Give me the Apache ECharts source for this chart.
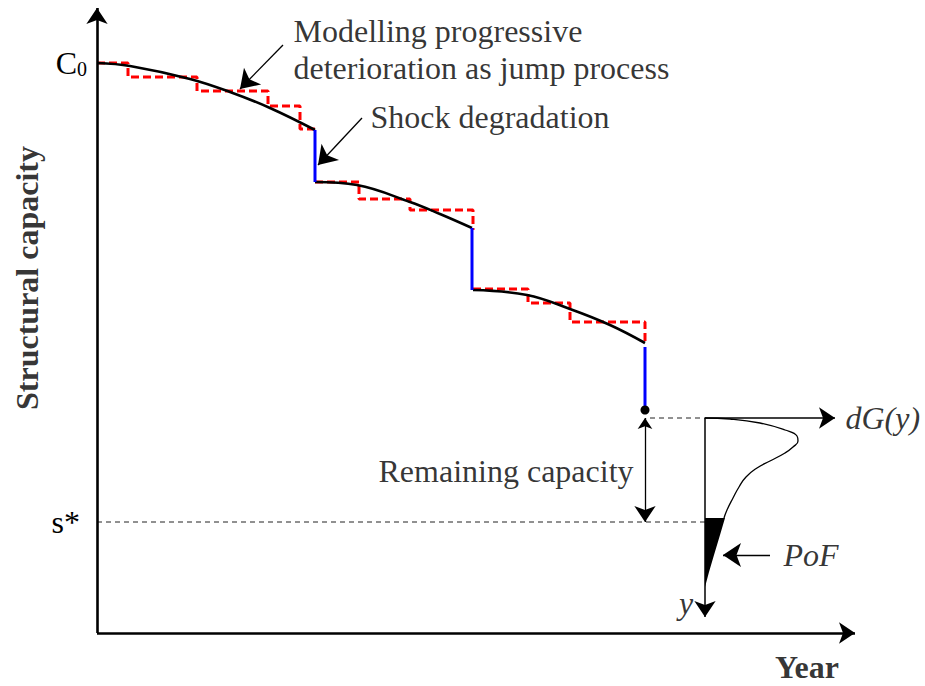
<!DOCTYPE html>
<html>
<head>
<meta charset="utf-8">
<script src="https://cdn.jsdelivr.net/npm/echarts@6/dist/echarts.min.js"></script>
<style>
  html, body { margin: 0; padding: 0; background: #fff; }
  #chart { width: 925px; height: 686px; }
</style>
</head>
<body>
<div id="chart"></div>
<script>
// Capacity levels on the vertical axis
const c0Level = 570;      // initial capacity C0
const sStarLevel = 111;   // limit state s*

// Progressive deterioration (smooth ageing) between shocks
const agingPath1 = [[0, 570], [33, 567], [93, 554], [133, 541], [173, 525], [218, 503]];
const agingPath2 = [[218, 451], [260, 448], [313, 431], [343, 419], [375, 405]];
const agingPath3 = [[376, 343], [430, 338], [473, 324], [513, 308], [548, 290]];

// The same deterioration modelled as a jump process
const jumpSteps1 = [[0, 570], [31, 570], [31, 556], [100, 556], [100, 542], [171, 542], [171, 527], [203, 527], [203, 504], [219, 504]];
const jumpSteps2 = [[218, 451], [262, 451], [262, 434], [313, 434], [313, 423], [376, 423], [376, 403]];
const jumpSteps3 = [[376, 344], [431, 344], [431, 330], [473, 330], [473, 311], [548, 311], [548, 290]];

// Sudden shock degradations
const shockDrops = [
  [[218, 503], [218, 451]],
  [[375, 405], [375, 343]],
  [[548, 286], [548, 223]]
];
const currentState = [548, 223];

// Distribution of remaining capacity dG(y)
const densityCurve = [[608, 215], [633, 214], [663, 210], [688, 203], [700, 197], [701, 192], [696, 186], [688, 180], [673, 172], [660, 165], [649, 156], [642, 146], [636, 135], [630, 123], [627, 115]];
const pofArea = [[608, 115], [628, 115], [623, 98], [617, 78], [612, 61], [608, 46]];

// Helper lines and arrows
const thresholdLine = [[0, sStarLevel], [608, sStarLevel]];
const stateLine = [[553, 215], [608, 215]];
const remainingSpan = [[548, 215], [548, 111]];
const axisYear = [[0, 0], [758, 0]];
const axisCapacity = [[0, 0], [0, 625]];
const axisDensityX = [[608, 215], [738, 215]];
const axisDensityY = [[608, 215], [608, 16]];
const pofPointer = [[673, 78], [626, 78]];
const jumpPointer = [[186, 588], [143, 544]];
const shockPointer = [[265, 515], [221, 468]];

const serif = "'Liberation Serif', 'Times New Roman', serif";

// Text notes anchored in data space
const notes = [
  { value: [196, 583.5], text: 'Modelling progressive\ndeterioration as jump process', pos: 'right' },
  { value: [273, 516], text: 'Shock degradation', pos: 'right' },
  { value: [281, 162], text: 'Remaining capacity', pos: 'right' },
  { value: [748, 215], text: 'dG(y)', pos: 'right', italic: true },
  { value: [686, 78], text: 'PoF', pos: 'right', italic: true },
  { value: [589, 30], text: 'y', pos: 'inside', italic: true },
  { value: [710, -34], text: 'Year', pos: 'inside', bold: true },
  { value: [-70, 355], text: 'Structural capacity', pos: 'inside', bold: true, rotate: 90 }
];

function lineSeries(data, color, width, type, smooth) {
  return {
    type: 'line', data: data, smooth: smooth || false, symbol: 'none', silent: true,
    clip: false,
    lineStyle: { color: color, width: width, type: type || 'solid', cap: 'butt' },
    z: 3
  };
}

function arrowSeries(segments, width, size, both) {
  return {
    type: 'lines', coordinateSystem: 'cartesian2d', silent: true, clip: false,
    symbol: both ? ['arrow', 'arrow'] : ['none', 'arrow'],
    symbolSize: size,
    lineStyle: { color: '#000', width: width, opacity: 1, curveness: 0 },
    data: segments.map(s => ({ coords: s })),
    z: 4
  };
}

const chart = echarts.init(document.getElementById('chart'), null, { renderer: 'svg' });

const series = [
  lineSeries(thresholdLine, '#222', 1, [5, 4]),
  lineSeries(stateLine, '#222', 1, [5, 4]),
  lineSeries(jumpSteps1, '#ff0000', 3, [8, 4]),
  lineSeries(jumpSteps2, '#ff0000', 3, [8, 4]),
  lineSeries(jumpSteps3, '#ff0000', 3, [8, 4]),
  lineSeries(agingPath1, '#000', 2.6, 'solid', 0.4),
  lineSeries(agingPath2, '#000', 2.6, 'solid', 0.4),
  lineSeries(agingPath3, '#000', 2.6, 'solid', 0.4),
  lineSeries(densityCurve, '#000', 1.3, 'solid', 0.5)
];
shockDrops.forEach(d => series.push(lineSeries(d, '#0000ff', 3, 'solid')));

series.push({
  type: 'custom', silent: true, clip: false,
  data: [pofArea[0]],
  renderItem: function (params, api) {
    return {
      type: 'polygon',
      shape: { points: pofArea.map(p => api.coord(p)) },
      style: { fill: '#000' }
    };
  },
  z: 3
});

series.push({
  type: 'scatter', data: [currentState], symbolSize: 9, silent: true, clip: false,
  itemStyle: { color: '#000', opacity: 1 }, z: 5
});

series.push(arrowSeries([axisYear, axisCapacity], 2.6, [13, 16], false));
series.push(arrowSeries([axisDensityX, axisDensityY], 1.5, [11, 16], false));
series.push(arrowSeries([pofPointer, jumpPointer, shockPointer], 1.3, [12, 18], false));
series.push(arrowSeries([remainingSpan], 1.3, [11, 16], true));

series.push({
  type: 'scatter', silent: true, clip: false, symbolSize: 1,
  itemStyle: { color: 'rgba(0,0,0,0)' },
  data: notes.map(n => ({
    value: n.value,
    label: {
      show: true,
      formatter: n.text,
      position: n.pos,
      distance: 0,
      rotate: n.rotate || 0,
      color: '#000',
      fontFamily: serif,
      fontSize: 32,
      lineHeight: 37,
      fontStyle: n.italic ? 'italic' : 'normal',
      fontWeight: n.bold ? 'bold' : 'normal'
    }
  })),
  z: 6
});

chart.setOption({
  animation: false,
  backgroundColor: '#fff',
  grid: { left: 97, right: 70, top: 8, bottom: 53, containLabel: false },
  xAxis: {
    type: 'value', min: 0, max: 758, show: false
  },
  yAxis: {
    type: 'value', min: 0, max: 625,
    axisLine: { show: false }, axisTick: { show: false }, splitLine: { show: false },
    axisLabel: {
      customValues: [c0Level, sStarLevel],
      margin: 10,
      formatter: v => v === c0Level ? '{c|C}{s|0}' : '{t|s*}',
      rich: {
        c: { fontFamily: serif, fontSize: 32, color: '#000' },
        s: { fontFamily: serif, fontSize: 20, color: '#000', padding: [12, 0, 0, 0] },
        t: { fontFamily: serif, fontSize: 32, color: '#000', padding: [0, 7, 0, 0] }
      }
    }
  },
  series: series
});
</script>
</body>
</html>
